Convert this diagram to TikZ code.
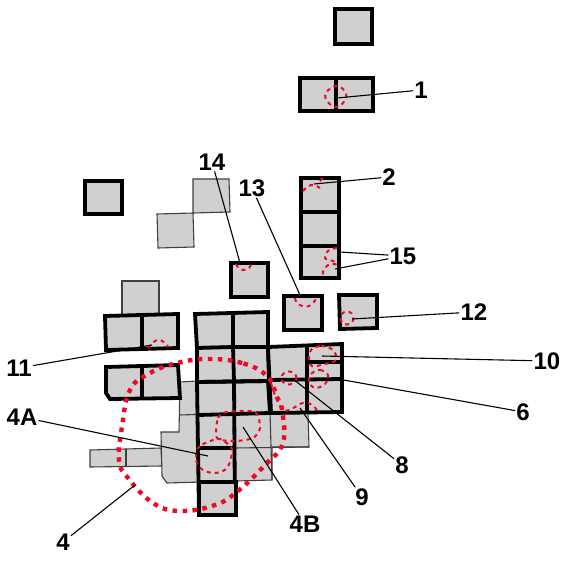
\documentclass[tikz,border=0pt]{standalone}
\usepackage{fontspec}
\setmainfont{Liberation Sans}
\definecolor{cellgray}{HTML}{D0D0D0}
\definecolor{ringred}{HTML}{EE0A24}
\tikzset{
  cell/.style={fill=cellgray, draw=black, line width=3.8pt, line join=miter},
  bar/.style={draw=black, line width=3.8pt},
  thincell/.style={fill=cellgray, draw=black!75, line width=1.1pt},
  ring/.style={draw=ringred, line width=2pt, dash pattern=on 4pt off 4pt},
  bigring/.style={draw=ringred, line width=4.4pt, dash pattern=on 4.5pt off 5.5pt},
  leader/.style={draw=black, line width=1.1pt},
  num/.style={font=\fontsize{24}{26}\bfseries\selectfont, inner sep=1pt},
}
\begin{document}
\begin{tikzpicture}[x=1pt, y=-1pt]
  \useasboundingbox (0,0) rectangle (564,579);
  % light parcels
  \draw[thincell] (122,281) -- (159,281) -- (159,318) -- (122,318) -- cycle;
  \draw[thincell] (193,179) -- (229,179) -- (230,212) -- (193,213) -- cycle;
  \draw[thincell] (157,214) -- (193,213) -- (194,247) -- (158,248) -- cycle;
  \draw[thincell] (90,450) -- (161,448) -- (162,466) -- (90,467) -- cycle;
  \draw[thincell] (126,449) -- (126,466);
  \draw[thincell] (180,382) -- (197,381) -- (268,381) -- (308,412) -- (309,447) -- (272,447) -- (272,480) -- (167,483) -- (162,476) -- (161,432) -- (179,432) -- cycle;
  \draw[thincell] (180,415) -- (270,412);
  \draw[thincell] (234,448) -- (309,447);
  \draw[thincell] (270,412) -- (272,480);
  % heavy parcels
  \draw[cell] (335,9) rectangle (372,44);
  \draw[cell] (300,78) rectangle (373,111);
  \draw[bar] (336,78) -- (336,111);
  \draw[cell] (85,181) rectangle (122,214);
  \draw[cell] (301,178) rectangle (339,278);
  \draw[bar] (301,212) -- (339,212);
  \draw[bar] (301,246) -- (339,246);
  \draw[cell] (231,263) rectangle (268,297);
  \draw[cell] (284,296) rectangle (322,330);
  \draw[cell] (339,295) -- (377,295) -- (377,328) -- (340,329) -- cycle;
  \draw[cell] (105,316) -- (178,314) -- (178,348) -- (106,350) -- cycle;
  \draw[bar] (142,315) -- (142,349);
  \draw[cell] (106,367) -- (178,365) -- (180,398) -- (110,399) -- (106,393) -- cycle;
  \draw[bar] (142,366) -- (142,399);
  \draw[cell] (195,314) -- (268,312) -- (268,347) -- (197,348) -- cycle;
  \draw[bar] (233,313) -- (233,347);
  \draw[cell] (197,348) -- (233,347) -- (268,347) -- (269,381) -- (197,382) -- cycle;
  \draw[bar] (233,347) -- (234,381);
  \draw[bar] (197,382) -- (269,381);
  \draw[bar] (198,415) -- (270,413) -- (268,381);
  \draw[bar] (234,381) -- (235,515);
  \draw[bar] (197,382) -- (199,515);
  \draw[bar] (198,448) -- (234,448);
  \draw[cell] (199,482) rectangle (236,515);
  \draw[cell] (268,347) -- (342,344) -- (342,412) -- (271,413) -- cycle;
  \draw[bar] (268,380) -- (342,379);
  \draw[bar] (307,346) -- (307,412);
  \draw[bar] (307,362) -- (342,362);
  % hatched limits
  \draw[ring] plot[smooth cycle, tension=0.8] coordinates {(337,86) (346,94) (343,103) (336,107) (328,102) (326,93)};
  \draw[ring] plot[smooth, tension=0.8] coordinates {(303,191) (311,185) (320,188)};
  \draw[ring] (320,181) -- (324,177);
  \draw[ring] plot[smooth, tension=0.8] coordinates {(337,248) (328,251) (325,258) (333,261) (337,264) (328,265) (323,272) (323,278)};
  \draw[ring] plot[smooth, tension=0.8] coordinates {(236,264) (238,267) (243,270) (249,268) (251,264)};
  \draw[ring] plot[smooth, tension=0.8] coordinates {(295,298) (297,303) (303,306) (311,305) (317,297)};
  \draw[ring] (347,318) circle (6.5);
  \draw[ring] plot[smooth, tension=0.8] coordinates {(148,348) (157,340) (165,343) (168,347)};
  \draw[ring] plot[smooth cycle, tension=0.6] coordinates {(311,350) (321,346) (333,350) (336,360) (325,364) (312,366) (309,358)};
  \draw[ring] plot[smooth cycle, tension=0.6] coordinates {(311,374) (320,370) (328,375) (325,384) (315,388) (309,382)};
  \draw[ring] (289,378) ellipse (7.5 and 6.5);
  \draw[ring] plot[smooth, tension=0.8] coordinates {(271,383) (277,400) (284,410) (293,408) (303,403) (312,405) (318,412)};
  \draw[ring] plot[smooth cycle, tension=0.45] coordinates {(217,438) (218,418) (227,412) (255,412) (260,428) (253,438) (235,441)};
  \draw[ring] plot[smooth cycle, tension=0.6] coordinates {(217,439) (200,446) (196,455) (199,467) (213,473) (227,468) (232,450) (225,442)};
  \draw[bigring] plot[smooth cycle, tension=0.7] coordinates {(267,376) (242,363) (208,359) (177,363) (150,373) (130,390) (122,427) (119,460) (128,478) (153,503) (180,511) (215,505) (238,491) (265,465) (283,443) (282,410) (277,397)};
  % labels
  \node[num] (n1) at (421,90) {1};
  \node[num] (n2) at (389,177) {2};
  \node[num] (n15) at (403,256) {15};
  \node[num] (n14) at (212,162) {14};
  \node[num] (n13) at (252,188) {13};
  \node[num] (n12) at (474,312) {12};
  \node[num] (n11) at (19,368) {11};
  \node[num] (n10) at (547,361) {10};
  \node[num] (n6) at (523,412) {6};
  \node[num] (n8) at (402,465) {8};
  \node[num] (n9) at (362,497) {9};
  \node[num] (n4B) at (305,524) {4B};
  \node[num] (n4) at (63,542) {4};
  \node[num] (n4A) at (22,417) {4A};
  % leader ends
  \coordinate (e1) at (337,98);
  \coordinate (e2) at (314,184);
  \coordinate (e15a) at (340,252);
  \coordinate (e15b) at (335,269);
  \coordinate (e14) at (240,263);
  \coordinate (e13) at (300,295);
  \coordinate (e12) at (352,319);
  \coordinate (e11) at (152,345);
  \coordinate (e10) at (322,356);
  \coordinate (e6) at (338,379);
  \coordinate (e8) at (293,379);
  \coordinate (e9) at (300,408);
  \coordinate (e4B) at (243,427);
  \coordinate (e4) at (135,485);
  \coordinate (e4A) at (208,456);
  \draw[leader] (n1) -- (e1);
  \draw[leader] (n2) -- (e2);
  \draw[leader] (n15) -- (e15a);
  \draw[leader] (n15) -- (e15b);
  \draw[leader] (n14) -- (e14);
  \draw[leader] (n13) -- (e13);
  \draw[leader] (n12) -- (e12);
  \draw[leader] (n11) -- (e11);
  \draw[leader] (n10) -- (e10);
  \draw[leader] (n6) -- (e6);
  \draw[leader] (n8) -- (e8);
  \draw[leader] (n9) -- (e9);
  \draw[leader] (n4B) -- (e4B);
  \draw[leader] (n4) -- (e4);
  \draw[leader] (n4A) -- (e4A);
\end{tikzpicture}
\end{document}
